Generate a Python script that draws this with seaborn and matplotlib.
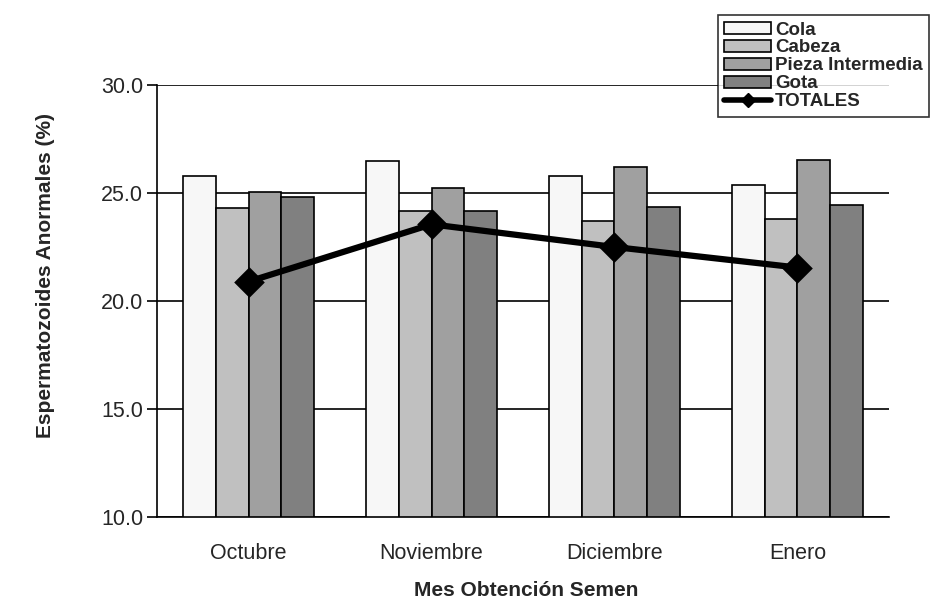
import seaborn as sns
import pandas as pd
import matplotlib.pyplot as plt
from matplotlib.patches import Patch
from matplotlib.lines import Line2D

# datos
meses = ["Octubre", "Noviembre", "Diciembre", "Enero"]
cola = [25.8, 26.5, 25.8, 25.35]
cabeza = [24.3, 24.15, 23.7, 23.8]
pieza = [25.05, 25.25, 26.2, 26.55]
gota = [24.8, 24.15, 24.35, 24.45]
totales = [20.9, 23.55, 22.5, 21.55]

series = ["Cola", "Cabeza", "Pieza Intermedia", "Gota"]
colores = ["#f7f7f7", "#c0c0c0", "#a0a0a0", "#808080"]

df = pd.DataFrame({
    "mes": meses * 4,
    "tipo": [s for s in series for _ in meses],
    "valor": cola + cabeza + pieza + gota,
})

sns.set_style("white")
plt.rcParams["font.family"] = ["Liberation Sans", "DejaVu Sans"]

fig = plt.figure(figsize=(9.42, 6), dpi=100)
ax = fig.add_axes([0.1667, 0.1383, 0.777, 0.72])

sns.barplot(x="mes", y="valor", hue="tipo", data=df, order=meses,
            hue_order=series, palette=colores, width=0.72, gap=0,
            edgecolor="black", linewidth=1.2, ax=ax, legend=False, zorder=2)

sns.pointplot(x=meses, y=totales, color="black", markers="D",
              markersize=12, linewidth=4.5, ax=ax, zorder=5)

ax.set_ylim(10, 30)
ax.set_xlim(-0.5, 3.5)
ax.set_yticks([10, 15, 20, 25, 30])
ax.set_yticklabels(["10.0", "15.0", "20.0", "25.0", "30.0"])
ax.yaxis.grid(True, color="black", linewidth=1.2, zorder=0)
ax.set_axisbelow(True)

# marcas del eje x entre categorias
ax.set_xticks([0, 1, 2, 3])
ax.set_xticks([-0.5, 0.5, 1.5, 2.5, 3.5], minor=True)
ax.tick_params(axis="x", which="major", length=0, pad=19, labelsize=15.5)
ax.tick_params(axis="x", which="minor", length=7, width=1.2, direction="out",
               color="black")
ax.tick_params(axis="y", length=7, width=1.2, direction="out", color="black",
               labelsize=15.5, left=True, pad=3)

for lado in ["top", "right"]:
    ax.spines[lado].set_visible(False)
for lado in ["left", "bottom"]:
    ax.spines[lado].set_color("black")
    ax.spines[lado].set_linewidth(1.2)

ax.set_xlabel("Mes Obtención Semen", fontsize=15, fontweight="bold", labelpad=12)
ax.xaxis.label.set_x(0.504)
ax.set_ylabel("Espermatozoides Anormales (%)", fontsize=15, fontweight="bold",
              labelpad=33)
ax.yaxis.label.set_y(0.558)

handles = [Patch(facecolor=c, edgecolor="black", linewidth=1.2) for c in colores]
handles.append(Line2D([], [], color="black", linewidth=4, marker="D",
                      markersize=7))
leg = fig.legend(handles, series + ["TOTALES"], loc="upper left",
                 bbox_to_anchor=(0.762, 0.975), frameon=True, fancybox=False,
                 edgecolor="black", prop={"weight": "bold", "size": 13.5},
                 handlelength=2.5, handleheight=0.6, labelspacing=0.05,
                 handletextpad=0.2, borderpad=0.35, borderaxespad=0)
leg.get_frame().set_linewidth(1.2)

fig.savefig("out.png", dpi=100)
